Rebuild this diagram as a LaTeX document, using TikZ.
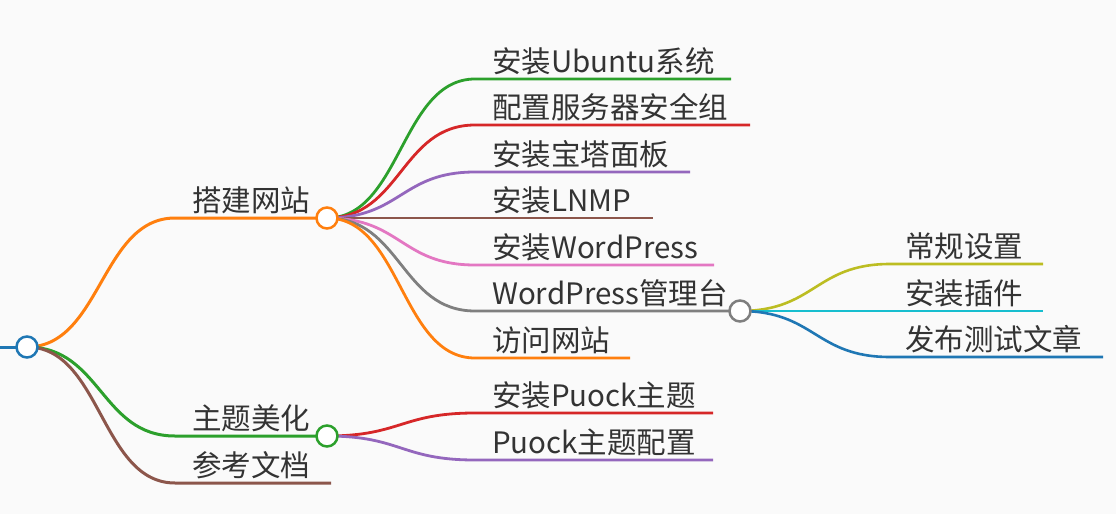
\documentclass[tikz,border=0pt]{standalone}
\usepackage{fontspec}
\setmainfont{Noto Sans CJK SC}
\definecolor{bg}{HTML}{FAFAFA}
\definecolor{txt}{HTML}{333333}
\definecolor{cOrange}{HTML}{FF7F0E}
\definecolor{cGreen}{HTML}{2CA02C}
\definecolor{cRed}{HTML}{D62728}
\definecolor{cPurple}{HTML}{9467BD}
\definecolor{cBrown}{HTML}{8C564B}
\definecolor{cPink}{HTML}{E377C2}
\definecolor{cGray}{HTML}{7F7F7F}
\definecolor{cOlive}{HTML}{BCBD22}
\definecolor{cCyan}{HTML}{17BECF}
\definecolor{cBlue}{HTML}{1F77B4}
\begin{document}
\begin{tikzpicture}[x=1pt,y=-1pt,
  linkA/.style={line width=3pt},
  linkB/.style={line width=2.8pt},
  linkC/.style={line width=2.6pt},
  lbl/.style={anchor=base west, inner sep=0pt, text=txt, font=\fontsize{29.5}{30}\selectfont},
  knob/.style={circle, draw, fill=white, line width=2.5pt, minimum size=21pt, inner sep=0pt}]
\fill[bg] (0,0) rectangle (1116,514);
\useasboundingbox (0,0) rectangle (1116,514);
% ---- coordinates
\coordinate (r0) at (0,347);
\coordinate (r) at (27,347);
% level 1
\coordinate (as) at (175,218); \coordinate (a) at (327,218);
\coordinate (bs) at (175,436); \coordinate (b) at (327,436);
\coordinate (cs) at (175,483); \coordinate (ce) at (331,483);
% level 2 under a
\coordinate (a1s) at (475,79);  \coordinate (a1e) at (731,79);
\coordinate (a2s) at (475,125); \coordinate (a2e) at (750,125);
\coordinate (a3s) at (475,172); \coordinate (a3e) at (690,172);
\coordinate (a4s) at (475,218); \coordinate (a4e) at (653,218);
\coordinate (a5s) at (475,265); \coordinate (a5e) at (714,265);
\coordinate (a6s) at (475,311); \coordinate (a6) at (740,311);
\coordinate (a7s) at (475,358); \coordinate (a7e) at (630,358);
% level 2 under b
\coordinate (b1s) at (475,413); \coordinate (b1e) at (713,413);
\coordinate (b2s) at (475,460); \coordinate (b2e) at (713,460);
% level 3 under a6
\coordinate (d1s) at (890,264); \coordinate (d1e) at (1043,264);
\coordinate (d2s) at (890,311); \coordinate (d2e) at (1043,311);
\coordinate (d3s) at (890,357); \coordinate (d3e) at (1103,357);
% ---- links
\draw[linkA,cBlue] (r0) -- (r);
\draw[linkA,cOrange] (r) .. controls +(74,0) and +(-74,0) .. (as) -- (a);
\draw[linkA,cGreen] (r) .. controls +(74,0) and +(-74,0) .. (bs) -- (b);
\draw[linkA,cBrown] (r) .. controls +(74,0) and +(-74,0) .. (cs) -- (ce);
\draw[linkB,cGreen]  (a) .. controls +(74,0) and +(-74,0) .. (a1s) -- (a1e);
\draw[linkB,cRed]    (a) .. controls +(74,0) and +(-74,0) .. (a2s) -- (a2e);
\draw[linkB,cPurple] (a) .. controls +(74,0) and +(-74,0) .. (a3s) -- (a3e);
\draw[linkB,cBrown]  (a) .. controls +(74,0) and +(-74,0) .. (a4s) -- (a4e);
\draw[linkB,cPink]   (a) .. controls +(74,0) and +(-74,0) .. (a5s) -- (a5e);
\draw[linkB,cGray]   (a) .. controls +(74,0) and +(-74,0) .. (a6s) -- (a6);
\draw[linkB,cOrange] (a) .. controls +(74,0) and +(-74,0) .. (a7s) -- (a7e);
\draw[linkB,cRed]    (b) .. controls +(74,0) and +(-74,0) .. (b1s) -- (b1e);
\draw[linkB,cPurple] (b) .. controls +(74,0) and +(-74,0) .. (b2s) -- (b2e);
\draw[linkC,cOlive]  (a6) .. controls +(75,0) and +(-75,0) .. (d1s) -- (d1e);
\draw[linkC,cCyan]   (a6) .. controls +(75,0) and +(-75,0) .. (d2s) -- (d2e);
\draw[linkC,cBlue]   (a6) .. controls +(75,0) and +(-75,0) .. (d3s) -- (d3e);
% ---- circles
\node[knob,draw=cBlue] (rk) at (r) {};
\node[knob,draw=cOrange] (ak) at (a) {};
\node[knob,draw=cGreen] (bk) at (b) {};
\node[knob,draw=cGray] (a6k) at (a6) {};
% ---- labels
\node[lbl] (ta) at (192,211) {搭建网站};
\node[lbl] (tb) at (192,429) {主题美化};
\node[lbl] (tc) at (192,476) {参考文档};
\node[lbl] (ta1) at (492,72)  {安装Ubuntu系统};
\node[lbl] (ta2) at (492,118) {配置服务器安全组};
\node[lbl] (ta3) at (492,165) {安装宝塔面板};
\node[lbl] (ta4) at (492,211) {安装LNMP};
\node[lbl] (ta5) at (492,258) {安装WordPress};
\node[lbl] (ta6) at (492,304) {WordPress管理台};
\node[lbl] (ta7) at (492,351) {访问网站};
\node[lbl] (tb1) at (492,406) {安装Puock主题};
\node[lbl] (tb2) at (492,453) {Puock主题配置};
\node[lbl] (td1) at (905,257) {常规设置};
\node[lbl] (td2) at (905,304) {安装插件};
\node[lbl] (td3) at (905,350) {发布测试文章};
\end{tikzpicture}
\end{document}
